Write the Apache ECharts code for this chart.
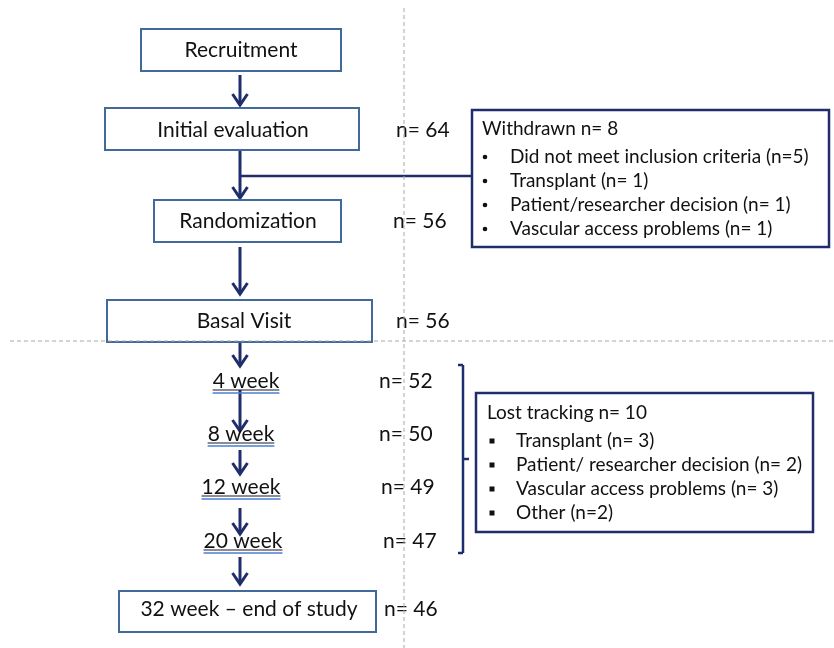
<!DOCTYPE html>
<html><head><meta charset="utf-8">
<script src="https://cdn.jsdelivr.net/npm/echarts@6/dist/echarts.min.js"></script>
<style>html,body{margin:0;padding:0;background:#fff}#c{width:834px;height:648px}</style>
</head><body><div id="c"></div>
<script>
// ---------- data ----------
const stages = ['Recruitment','Initial evaluation','Randomization','Basal Visit','4 week','8 week','12 week','20 week','32 week \u2013 end of study'];
const stageN = [null,64,56,56,52,50,49,47,46];
const withdrawnTitle = 'Withdrawn n= 8';
const withdrawnReasons = ['Did not meet inclusion criteria (n=5)','Transplant (n= 1)','Patient/researcher decision (n= 1)','Vascular access problems (n= 1)'];
const lostTitle = 'Lost tracking n= 10';
const lostReasons = ['Transplant (n= 3)','Patient/ researcher decision (n= 2)','Vascular access problems (n= 3)','Other (n=2)'];

// ---------- layout (pixel units of hidden axes) ----------
const stageY = [50,130,221,321,381,434,487,541,609];
const stageX = [241,233,248,244,246,241,241,243,249];
const stageBox = [[141,341,29,71],[105,359,108,150],[154,341,200,242],[107,372,300,342],null,null,null,null,[119,376,591,632]];
const nX = [null,396,393,396,379,379,381,383,384];
const arrowX = 240;
const arrowSeg = [[75,106],[150,199],[247,295],[342,367],[390,432],[450,475],[508,535],[557,585]];
const sideBoxes = [
  {box:[472,829,110,247], tx:482, ty:129, bx:485, ix:510, iy:157, bullet:'dot'},
  {box:[476,813,393,532], tx:487, ty:413, bx:492, ix:516, iy:441, bullet:'square'}
];
const lineStep = 24;

const NAVY = '#1f2d6c';
const BOXBLUE = '#41699b';
const FONT_MAIN = '21px Lato';
const FONT_SIDE = '19px Lato';
const TEXT = '#111';

const mctx = document.createElement('canvas').getContext('2d');
function tw(t, f){ mctx.font = f; return mctx.measureText(t).width; }

const chart = echarts.init(document.getElementById('c'));

function stageItem(params, api){
  const i = api.value(0);
  const ch = [];
  const b = stageBox[i];
  if (b){
    const p0 = api.coord([b[0], b[2]]), p1 = api.coord([b[1], b[3]]);
    ch.push({type:'rect', shape:{x:p0[0], y:p0[1], width:p1[0]-p0[0], height:p1[1]-p0[1]},
      style:{fill:'#fff', stroke:BOXBLUE, lineWidth:2}});
  }
  const c = api.coord([stageX[i], stageY[i]]);
  ch.push({type:'text', x:c[0], y:c[1], z2:5, style:{text:stages[i], font:FONT_MAIN, fill:TEXT, align:'center', verticalAlign:'middle'}});
  if (!b){
    const w = tw(stages[i], FONT_MAIN);
    const xa = c[0]-w/2, xb = c[0]+w/2;
    ch.push({type:'line', z2:4, shape:{x1:xa, y1:c[1]+9, x2:xb, y2:c[1]+9}, style:{stroke:'#1a1a2a', lineWidth:1.2}});
    ch.push({type:'line', z2:4, shape:{x1:xa, y1:c[1]+12, x2:xb, y2:c[1]+12}, style:{stroke:'#4a7fd6', lineWidth:1.6}});
  }
  if (stageN[i] !== null){
    const q = api.coord([nX[i], stageY[i]]);
    ch.push({type:'text', x:q[0], y:q[1], style:{text:'n= ' + stageN[i], font:FONT_MAIN, fill:TEXT, align:'left', verticalAlign:'middle'}});
  }
  return {type:'group', children:ch};
}

function arrowItem(params, api){
  const s = arrowSeg[api.value(0)];
  const a = api.coord([arrowX, s[0]]), b = api.coord([arrowX, s[1]]);
  return {type:'group', children:[
    {type:'line', shape:{x1:a[0], y1:a[1], x2:b[0], y2:b[1]-1}, style:{stroke:NAVY, lineWidth:3}},
    {type:'polyline', shape:{points:[[b[0]-7.5,b[1]-12],[b[0],b[1]-1],[b[0]+7.5,b[1]-12]]}, style:{stroke:NAVY, lineWidth:3, fill:null, lineJoin:'miter'}}
  ]};
}

function sideItem(params, api){
  const k = api.value(0);
  const L = sideBoxes[k];
  const title = k === 0 ? withdrawnTitle : lostTitle;
  const items = k === 0 ? withdrawnReasons : lostReasons;
  const p0 = api.coord([L.box[0], L.box[2]]), p1 = api.coord([L.box[1], L.box[3]]);
  const ch = [{type:'rect', shape:{x:p0[0], y:p0[1], width:p1[0]-p0[0], height:p1[1]-p0[1]}, style:{fill:'#fff', stroke:NAVY, lineWidth:2.5}}];
  const t = api.coord([L.tx, L.ty]);
  ch.push({type:'text', x:t[0], y:t[1], style:{text:title, font:FONT_SIDE, fill:TEXT, align:'left', verticalAlign:'middle'}});
  items.forEach((s, j) => {
    const y = L.iy + j*lineStep;
    const bp = api.coord([L.bx, y]);
    if (L.bullet === 'dot') ch.push({type:'circle', shape:{cx:bp[0], cy:bp[1], r:2.3}, style:{fill:TEXT}});
    else ch.push({type:'rect', shape:{x:bp[0]-2.5, y:bp[1]-2.5, width:5, height:5}, style:{fill:TEXT}});
    const ip = api.coord([L.ix, y]);
    ch.push({type:'text', x:ip[0], y:ip[1], style:{text:s, font:FONT_SIDE, fill:TEXT, align:'left', verticalAlign:'middle'}});
  });
  return {type:'group', children:ch};
}

// connector lines, bracket and dashed guides: [x1,y1,x2,y2,kind]
const guides = [
  [240,176,472,176,'solid'],
  [463,365,463,553,'solid'],
  [458,365,463,365,'solid'],
  [458,553,463,553,'solid'],
  [463,459,469,459,'solid'],
  [404,8,404,648,'dash'],
  [10,341,834,341,'dash']
];
function guideItem(params, api){
  const g = guides[api.value(0)];
  const a = api.coord([g[0], g[1]]), b = api.coord([g[2], g[3]]);
  const dash = g[4] === 'dash';
  return {type:'line', shape:{x1:a[0], y1:a[1], x2:b[0], y2:b[1]},
    style: dash ? {stroke:'#a8a8a8', lineWidth:1, lineDash:[4,3]} : {stroke:NAVY, lineWidth:2.5}};
}

chart.setOption({
  backgroundColor:'#fff',
  animation:false,
  grid:{left:0, right:0, top:0, bottom:0},
  xAxis:{type:'value', min:0, max:834, show:false},
  yAxis:{type:'value', min:0, max:648, inverse:true, show:false},
  series:[
    {type:'custom', coordinateSystem:'cartesian2d', clip:false, z:1, renderItem:guideItem, data:guides.map((g,i)=>[i]).filter(d=>guides[d[0]][4]==='solid')},
    {type:'custom', coordinateSystem:'cartesian2d', clip:false, z:2, renderItem:arrowItem, data:arrowSeg.map((s,i)=>[i])},
    {type:'custom', coordinateSystem:'cartesian2d', clip:false, z:3, renderItem:stageItem, data:stages.map((s,i)=>[i])},
    {type:'custom', coordinateSystem:'cartesian2d', clip:false, z:3, renderItem:sideItem, data:[[0],[1]]},
    {type:'custom', coordinateSystem:'cartesian2d', clip:false, z:6, renderItem:guideItem, data:guides.map((g,i)=>[i]).filter(d=>guides[d[0]][4]==='dash')}
  ]
});
</script></body></html>
